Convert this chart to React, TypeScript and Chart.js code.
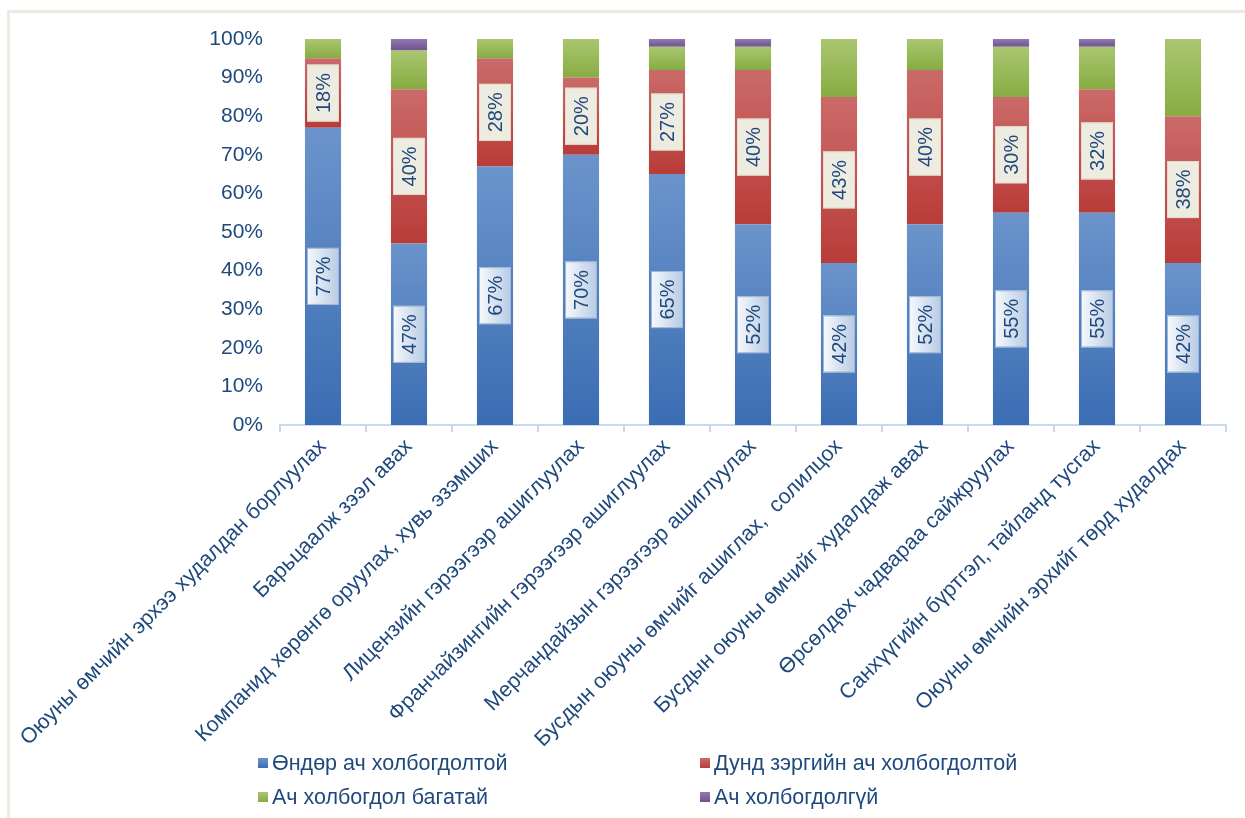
import React, { useEffect, useRef } from "react";
import { Chart, registerables } from "chart.js";

Chart.register(...registerables);

const categories = [
  "Оюуны өмчийн эрхээ худалдан борлуулах",
  "Барьцаалж зээл авах",
  "Компанид хөрөнгө оруулах, хувь эзэмших",
  "Лицензийн гэрээгээр ашиглуулах",
  "Франчайзингийн гэрээгээр ашиглуулах",
  "Мерчандайзын гэрээгээр ашиглуулах",
  "Бусдын оюуны өмчийг ашиглах,  солилцох",
  "Бусдын оюуны өмчийг худалдаж авах",
  "Өрсөлдөх чадвараа сайжруулах",
  "Санхүүгийн бүртгэл, тайланд тусгах",
  "Оюуны өмчийн эрхийг төрд худалдах",
];

const seriesNames = [
  "Өндөр ач холбогдолтой",
  "Дунд зэргийн ач холбогдолтой",
  "Ач холбогдол багатай",
  "Ач холбогдолгүй",
];

const highValues = [77, 47, 67, 70, 65, 52, 42, 52, 55, 55, 42];
const mediumValues = [18, 40, 28, 20, 27, 40, 43, 40, 30, 32, 38];
const lowValues = [5, 10, 5, 10, 6, 6, 15, 8, 13, 11, 20];
const noneValues = [0, 3, 0, 0, 2, 2, 0, 0, 2, 2, 0];

const yTicks = [0, 10, 20, 30, 40, 50, 60, 70, 80, 90, 100];

const FONT = "'Liberation Sans', Arial, sans-serif";
const TEXT = "#1F497D";

const gradColors: [string, string][] = [
  ["#6B94CB", "#3B6DB3"],
  ["#CA6B69", "#B93C39"],
  ["#AAC670", "#87AC42"],
  ["#917AB1", "#6F528E"],
];

function makeGrad(colors: [string, string]) {
  return (ctx: any) => {
    const chart = ctx.chart;
    const area = chart.chartArea;
    if (!area || ctx.type !== "data") return colors[1];
    const ys = chart.scales.y;
    let base = 0;
    for (let d = 0; d < ctx.datasetIndex; d++) base += Number(chart.data.datasets[d].data[ctx.dataIndex]) || 0;
    const top = base + (Number(chart.data.datasets[ctx.datasetIndex].data[ctx.dataIndex]) || 0);
    const y0 = ys.getPixelForValue(top);
    const y1 = ys.getPixelForValue(base);
    if (!isFinite(y0) || !isFinite(y1) || Math.abs(y1 - y0) < 1) return colors[1];
    const g = chart.ctx.createLinearGradient(0, y0, 0, y1);
    g.addColorStop(0, colors[0]);
    g.addColorStop(1, colors[1]);
    return g;
  };
}

const labelPlugin = {
  id: "segLabels",
  afterDatasetsDraw(chart: any) {
    const c = chart.ctx;
    c.save();
    c.font = `20px ${FONT}`;
    [0, 1].forEach((di) => {
      const meta = chart.getDatasetMeta(di);
      meta.data.forEach((bar: any, j: number) => {
        const v = chart.data.datasets[di].data[j];
        if (!v) return;
        const { x, y, base } = bar.getProps(["x", "y", "base"], true);
        const cy = (y + base) / 2;
        const txt = `${v}%`;
        const tw = c.measureText(txt).width;
        const bh = tw + 17;
        const bw = 32;
        const bx = x - bw / 2;
        const by = cy - bh / 2;
        if (di === 0) {
          const g = c.createLinearGradient(bx, 0, bx + bw, 0);
          g.addColorStop(0, "#F7F9FC");
          g.addColorStop(1, "#B7CBE4");
          c.fillStyle = g;
          c.strokeStyle = "#9FB6D6";
        } else {
          c.fillStyle = "#EEECE1";
          c.strokeStyle = "#E0DCCB";
        }
        c.lineWidth = 1;
        c.fillRect(bx, by, bw, bh);
        c.strokeRect(bx + 0.5, by + 0.5, bw - 1, bh - 1);
        c.save();
        c.translate(x, cy);
        c.rotate(-Math.PI / 2);
        c.fillStyle = TEXT;
        c.textAlign = "center";
        c.textBaseline = "middle";
        c.fillText(txt, 0, 1);
        c.restore();
      });
    });
    c.restore();
  },
};

const legendPlugin = {
  id: "customLegend",
  afterDraw(chart: any) {
    const c = chart.ctx;
    c.save();
    // frame lines
    c.fillStyle = "#EEEAE2";
    c.fillRect(7, 10, chart.width - 7, 3);
    c.fillRect(7, 10, 3, chart.height - 10);
    const pos = [
      [258, 763],
      [700, 763],
      [258, 797],
      [700, 797],
    ];
    c.font = `21.5px ${FONT}`;
    c.textBaseline = "middle";
    c.textAlign = "left";
    seriesNames.forEach((name, i) => {
      const [px, py] = pos[i];
      const g = c.createLinearGradient(0, py - 5, 0, py + 5);
      g.addColorStop(0, gradColors[i][0]);
      g.addColorStop(1, gradColors[i][1]);
      c.fillStyle = g;
      c.fillRect(px, py - 5, 10, 10);
      c.fillStyle = TEXT;
      c.fillText(name, px + 14, py + 1);
    });
    c.restore();
  },
};

export default function App() {
  const ref = useRef<HTMLCanvasElement | null>(null);

  useEffect(() => {
    if (!ref.current) return;
    const values = [highValues, mediumValues, lowValues, noneValues];
    const chart = new Chart(ref.current, {
      type: "bar",
      data: {
        labels: categories,
        datasets: values.map((d, i) => ({
          label: seriesNames[i],
          data: d,
          backgroundColor: makeGrad(gradColors[i]),
          borderWidth: 0,
          barPercentage: 0.42,
          categoryPercentage: 1,
        })),
      },
      options: {
        animation: false,
        responsive: false,
        maintainAspectRatio: false,
        layout: { padding: { top: 39, right: 19, bottom: 0, left: 0 } },
        plugins: {
          legend: { display: false },
          tooltip: { enabled: false },
          title: { display: false },
        },
        scales: {
          x: {
            stacked: true,
            afterFit(scale: any) {
              scale.height = 393;
            },
            grid: {
              display: true,
              drawOnChartArea: false,
              offset: true,
              tickLength: 7,
              color: "#C9DAEF",
              lineWidth: 2,
            },
            border: { display: true, color: "#C9DAEF", width: 2 },
            ticks: {
              autoSkip: false,
              maxRotation: 45,
              minRotation: 45,
              padding: 2,
              color: TEXT,
              font: { family: FONT, size: 21.5 },
            },
          },
          y: {
            stacked: true,
            min: 0,
            max: 100,
            afterFit(scale: any) {
              scale.width = 280;
            },
            afterBuildTicks(scale: any) {
              scale.ticks = yTicks.map((v) => ({ value: v }));
            },
            grid: { display: false },
            border: { display: false },
            ticks: {
              padding: 9,
              color: TEXT,
              font: { family: FONT, size: 21 },
              callback: (v: any) => `${v}%`,
            },
          },
        },
      },
      plugins: [labelPlugin, legendPlugin],
    });
    return () => chart.destroy();
  }, []);

  return (
    <div style={{ position: "absolute", left: 0, top: 0, width: 1245, height: 818, background: "#FFFFFF" }}>
      <canvas ref={ref} width={1245} height={818} style={{ width: 1245, height: 818, display: "block" }} />
    </div>
  );
}
